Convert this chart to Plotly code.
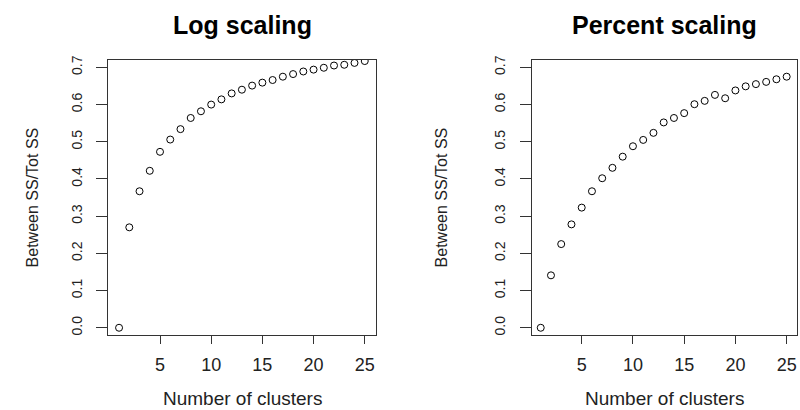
import plotly.graph_objects as go

clusters = list(range(1, 26))
log_scaling = [0.0, 0.270, 0.367, 0.422, 0.473, 0.506, 0.534, 0.564, 0.582, 0.600,
               0.614, 0.630, 0.640, 0.651, 0.659, 0.666, 0.675, 0.682, 0.689, 0.694,
               0.699, 0.705, 0.707, 0.712, 0.717]
percent_scaling = [0.0, 0.141, 0.225, 0.278, 0.323, 0.367, 0.402, 0.430, 0.460, 0.488,
                   0.505, 0.524, 0.552, 0.564, 0.577, 0.601, 0.610, 0.626, 0.617, 0.638,
                   0.649, 0.655, 0.661, 0.668, 0.675]
titles = ["Log scaling", "Percent scaling"]
x_ticks = [5, 10, 15, 20, 25]
y_ticks = [0.0, 0.1, 0.2, 0.3, 0.4, 0.5, 0.6, 0.7]
y_ticktext = [f"{v:.1f}" for v in y_ticks]
x_title = "Number of clusters"
y_title = "Between SS/Tot SS"

FONT = "Liberation Sans, Arial, sans-serif"
W, H = 800, 410

fig = go.Figure()
marker = dict(symbol="circle-open", size=7, color="black", line=dict(width=1, color="black"))
fig.add_trace(go.Scatter(x=clusters, y=log_scaling, mode="markers", marker=marker,
                         xaxis="x", yaxis="y", showlegend=False))
fig.add_trace(go.Scatter(x=clusters, y=percent_scaling, mode="markers", marker=marker,
                         xaxis="x2", yaxis="y2", showlegend=False))

# pixel boxes of the two panels
boxes = [(108.3, 375.7), (531.7, 796.7)]
top, bottom = 56.3, 334.3
ydom = [1 - bottom / H, 1 - top / H]
xranges = [[-0.05, 26.07], [0.12, 25.98]]
yrange = [-0.0195, 0.7205]

common_x = dict(showgrid=False, zeroline=False, showline=True, mirror=True,
                linecolor="#333333", linewidth=1, ticks="outside", ticklen=8,
                tickcolor="#333333", tickwidth=1, tickvals=x_ticks,
                tickfont=dict(family=FONT, size=18, color="#222222"),
                ticklabelstandoff=5)
common_y = dict(showgrid=False, zeroline=False, showline=True, mirror=True,
                linecolor="#333333", linewidth=1, ticks="outside", ticklen=11,
                tickcolor="#333333", tickwidth=1, tickvals=y_ticks, ticktext=y_ticktext,
                tickangle=-90, range=yrange, domain=ydom,
                tickfont=dict(family=FONT, size=14, color="#222222"),
                ticklabelstandoff=9)

fig.update_layout(
    width=W, height=H,
    margin=dict(l=0, r=0, t=0, b=0),
    paper_bgcolor="white", plot_bgcolor="white",
    xaxis=dict(common_x, domain=[boxes[0][0] / W, boxes[0][1] / W], range=xranges[0], anchor="y"),
    yaxis=dict(common_y, anchor="x"),
    xaxis2=dict(common_x, domain=[boxes[1][0] / W, boxes[1][1] / W], range=xranges[1], anchor="y2"),
    yaxis2=dict(common_y, anchor="x2"),
)

ann = []
ytitle_x = [32, 441]
for i, (l, r) in enumerate(boxes):
    cx = (l + r) / 2
    ann.append(dict(text=f"<b>{titles[i]}</b>", x=cx / W, y=1 - 21 / H, xref="paper", yref="paper",
                    showarrow=False, xanchor="center", yanchor="middle",
                    font=dict(family=FONT, size=25, color="black")))
    ann.append(dict(text=x_title, x=cx / W, y=1 - 398 / H, xref="paper", yref="paper",
                    showarrow=False, xanchor="center", yanchor="middle",
                    font=dict(family=FONT, size=19, color="#222222")))
    ann.append(dict(text=y_title, x=ytitle_x[i] / W, y=1 - ((top + bottom) / 2) / H,
                    xref="paper", yref="paper", textangle=-90,
                    showarrow=False, xanchor="center", yanchor="middle",
                    font=dict(family=FONT, size=16, color="#222222")))
fig.update_layout(annotations=ann)

fig.write_html("out.html")
